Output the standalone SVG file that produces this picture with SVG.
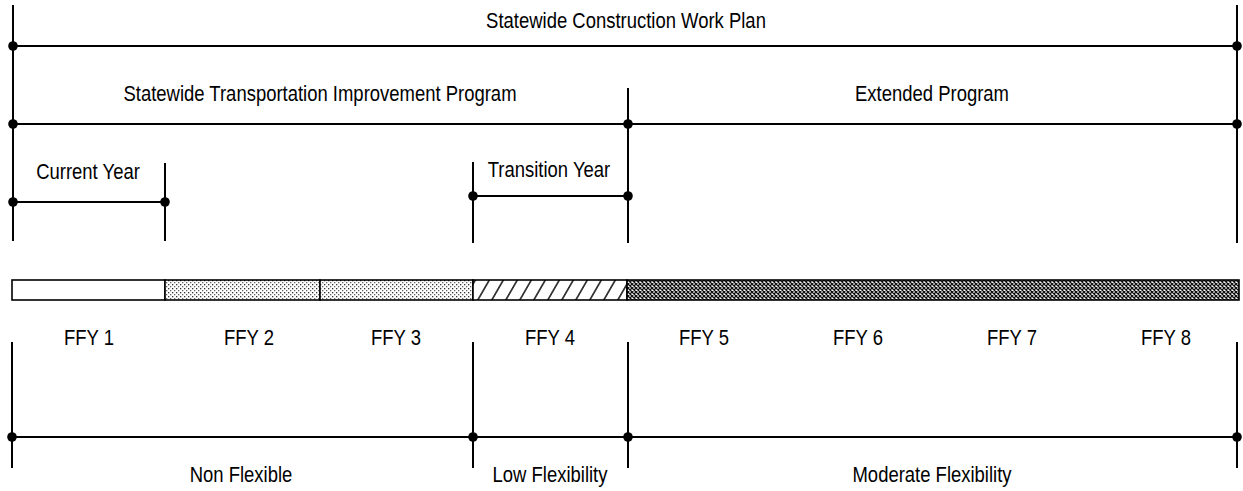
<svg xmlns="http://www.w3.org/2000/svg" width="1243" height="491" viewBox="0 0 1243 491">
<defs>
<style>
.ln{stroke:#000;stroke-width:2;fill:none}
.dot{fill:#000}
.t{font-family:"Liberation Sans",Arial,sans-serif;font-size:22px;fill:#000;text-anchor:middle}
.bar{stroke:#000;stroke-width:1.6}
</style>
<pattern id="dots" width="4" height="4" patternUnits="userSpaceOnUse">
<rect width="4" height="4" fill="#fff"/>
<rect x="0" y="0" width="1.3" height="1.3" fill="#333"/>
<rect x="2" y="2" width="1.3" height="1.3" fill="#666"/>
</pattern>
<pattern id="hatch" width="14" height="20" patternUnits="userSpaceOnUse" patternTransform="skewX(-30)">
<rect width="14" height="20" fill="#fff"/>
<line x1="7" y1="0" x2="7" y2="20" stroke="#000" stroke-width="1.6"/>
</pattern>
<pattern id="cross" width="4" height="4" patternUnits="userSpaceOnUse">
<rect width="4" height="4" fill="#fff"/>
<path d="M0,0 L4,4 M4,0 L0,4" stroke="#111" stroke-width="1.3"/>
</pattern>
</defs>
<rect width="1243" height="491" fill="#fff"/>
<g id="connectors">
<line class="ln" x1="13" y1="5" x2="13" y2="241"/>
<line class="ln" x1="1237" y1="5" x2="1237" y2="243"/>
<line class="ln" x1="165" y1="163" x2="165" y2="241"/>
<line class="ln" x1="473" y1="162" x2="473" y2="243"/>
<line class="ln" x1="628" y1="88" x2="628" y2="243"/>
<line class="ln" x1="13" y1="46" x2="1237" y2="46"/>
<line class="ln" x1="13" y1="124" x2="1237" y2="124"/>
<line class="ln" x1="13" y1="202" x2="165" y2="202"/>
<line class="ln" x1="473" y1="196" x2="628" y2="196"/>
<line class="ln" x1="12" y1="342" x2="12" y2="468"/>
<line class="ln" x1="473" y1="342" x2="473" y2="468"/>
<line class="ln" x1="628" y1="342" x2="628" y2="468"/>
<line class="ln" x1="1237" y1="342" x2="1237" y2="468"/>
<line class="ln" x1="12" y1="437" x2="1237" y2="437"/>
</g>
<g id="dots">
<circle class="dot" cx="13" cy="46" r="4.8"/>
<circle class="dot" cx="1237" cy="46" r="4.8"/>
<circle class="dot" cx="13" cy="124" r="4.8"/>
<circle class="dot" cx="628" cy="124" r="4.8"/>
<circle class="dot" cx="1237" cy="124" r="4.8"/>
<circle class="dot" cx="13" cy="202" r="4.8"/>
<circle class="dot" cx="165" cy="202" r="4.8"/>
<circle class="dot" cx="473" cy="196" r="4.8"/>
<circle class="dot" cx="628" cy="196" r="4.8"/>
<circle class="dot" cx="12" cy="437" r="4.8"/>
<circle class="dot" cx="473" cy="437" r="4.8"/>
<circle class="dot" cx="628" cy="437" r="4.8"/>
<circle class="dot" cx="1237" cy="437" r="4.8"/>
</g>
<g id="bar">
<rect class="bar" x="12" y="280" width="153" height="20" fill="#fff"/>
<rect class="bar" x="165" y="280" width="155" height="20" fill="url(#dots)"/>
<rect class="bar" x="320" y="280" width="153" height="20" fill="url(#dots)"/>
<rect class="bar" x="473" y="280" width="154" height="20" fill="url(#hatch)"/>
<rect class="bar" x="627" y="280" width="612" height="20" fill="url(#cross)"/>
</g>
<g id="labels">
<text class="t" transform="translate(626,28) scale(0.84,1)">Statewide Construction Work Plan</text>
<text class="t" transform="translate(320,101) scale(0.84,1)">Statewide Transportation Improvement Program</text>
<text class="t" transform="translate(932,101) scale(0.84,1)">Extended Program</text>
<text class="t" transform="translate(88,179) scale(0.84,1)">Current Year</text>
<text class="t" transform="translate(549,177) scale(0.84,1)">Transition Year</text>
<text class="t" transform="translate(89,345) scale(0.84,1)">FFY 1</text>
<text class="t" transform="translate(249,345) scale(0.84,1)">FFY 2</text>
<text class="t" transform="translate(396,345) scale(0.84,1)">FFY 3</text>
<text class="t" transform="translate(550,345) scale(0.84,1)">FFY 4</text>
<text class="t" transform="translate(704,345) scale(0.84,1)">FFY 5</text>
<text class="t" transform="translate(858,345) scale(0.84,1)">FFY 6</text>
<text class="t" transform="translate(1012,345) scale(0.84,1)">FFY 7</text>
<text class="t" transform="translate(1166,345) scale(0.84,1)">FFY 8</text>
<text class="t" transform="translate(241,482) scale(0.84,1)">Non Flexible</text>
<text class="t" transform="translate(550,482) scale(0.84,1)">Low Flexibility</text>
<text class="t" transform="translate(932,482) scale(0.84,1)">Moderate Flexibility</text>
</g>
</svg>
